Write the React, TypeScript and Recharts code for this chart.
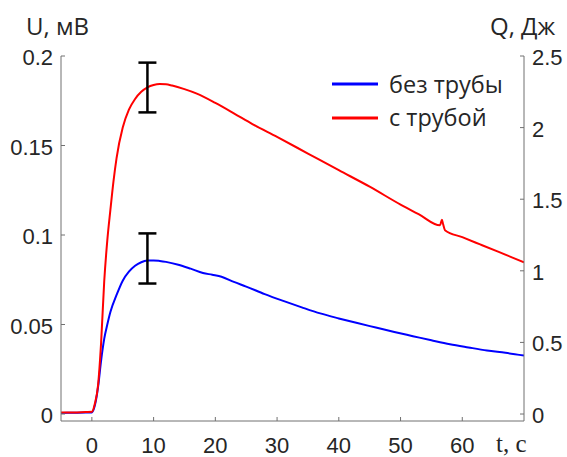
import { ComposedChart, Line, Scatter, ErrorBar, XAxis, YAxis } from "recharts";

// signal without the tube
const blueT = [-5, -3, -1, 0, 0.5, 1, 1.5, 2, 2.5, 3, 4, 5, 6, 7, 8, 9, 10, 11, 12, 14, 16, 18, 19.5, 21, 23, 25, 28, 31, 34, 37, 40, 43, 46, 49, 52, 55, 58, 61, 64, 67, 70];
const blueU = [0.0006, 0.0007, 0.0008, 0.0009, 0.005, 0.015, 0.03, 0.042, 0.05, 0.057, 0.0665, 0.0745, 0.0795, 0.0828, 0.0848, 0.0857, 0.0858, 0.0855, 0.085, 0.0834, 0.0812, 0.0788, 0.0778, 0.0767, 0.0738, 0.0712, 0.067, 0.0632, 0.0596, 0.0562, 0.0534, 0.0508, 0.0483, 0.0458, 0.0435, 0.0412, 0.039, 0.0372, 0.0355, 0.0342, 0.0327];

// signal with the tube
const redT = [-5, -3, -1, 0, 0.5, 1, 1.5, 2, 2.5, 3, 3.5, 4, 5, 6, 7, 8, 9, 10, 11, 12, 13, 15, 17, 20, 23, 26, 30, 35, 40, 45, 50, 53, 56.4, 56.7, 56.9, 57.2, 60, 63, 66, 70];
const redU = [0.0009, 0.0009, 0.0011, 0.0012, 0.006, 0.016, 0.04, 0.074, 0.097, 0.114, 0.13, 0.143, 0.16, 0.17, 0.176, 0.18, 0.1825, 0.1838, 0.1843, 0.1842, 0.1835, 0.1815, 0.179, 0.1738, 0.168, 0.162, 0.1548, 0.1455, 0.1362, 0.127, 0.117, 0.1115, 0.1054, 0.1085, 0.106, 0.1027, 0.0988, 0.0946, 0.0904, 0.0848];

// error bars at t = 9 s
const errT = [9, 9];
const errU = [0.1824, 0.0869];
const errHalf = [0.0139, 0.014];

const xTicks = [0, 10, 20, 30, 40, 50, 60];
const uTicks = [0, 0.05, 0.1, 0.15, 0.2];
const qTicks = [0, 0.5, 1, 1.5, 2, 2.5];

const seriesNames = ["без трубы", "с трубой"];
const BLUE = "#0000ff";
const RED = "#ff0000";
const AXIS = "#707070";
const TEXT = "#262626";
const TICK_FONT = "'Liberation Sans', Arial, sans-serif";
const LABEL_FONT = "'Open Sans', 'Noto Sans', sans-serif";

const blueData = blueT.map((t, i) => ({ t, u: blueU[i] }));
const redData = redT.map((t, i) => ({ t, u: redU[i] }));
const errData = errT.map((t, i) => ({ t, u: errU[i], e: errHalf[i] }));

const LeftTick = (props: any) => {
  const { x, y, payload } = props;
  return (
    <g>
      <line x1={x + 8} x2={x + 12} y1={y} y2={y} stroke={AXIS} />
      <text x={x} y={y + 9} textAnchor="end" fill={TEXT} fontSize={22} fontFamily={TICK_FONT}>
        {payload.value}
      </text>
    </g>
  );
};

const RightTick = (props: any) => {
  const { x, y, payload } = props;
  return (
    <g>
      <line x1={x - 8} x2={x - 12} y1={y} y2={y} stroke={AXIS} />
      <text x={x} y={y + 9} textAnchor="start" fill={TEXT} fontSize={22} fontFamily={TICK_FONT}>
        {payload.value}
      </text>
    </g>
  );
};

const BottomTick = (props: any) => {
  const { x, y, payload } = props;
  return (
    <g>
      <line x1={x} x2={x} y1={y} y2={y - 4} stroke={AXIS} />
      <text x={x} y={y + 32} textAnchor="middle" fill={TEXT} fontSize={22} fontFamily={TICK_FONT}>
        {payload.value}
      </text>
    </g>
  );
};

export default function App() {
  return (
    <div style={{ position: "absolute", left: 0, top: 0, width: 567, height: 457, background: "#fff" }}>
      <ComposedChart
        width={567}
        height={457}
        margin={{ top: 56, right: 0, bottom: 0, left: 0 }}
      >
        <XAxis
          type="number"
          dataKey="t"
          domain={[-5, 70]}
          ticks={xTicks}
          allowDataOverflow
          height={36}
          stroke={AXIS}
          tickSize={0}
          tickMargin={0}
          tickLine={false}
          tick={<BottomTick />}
        />
        <YAxis
          yAxisId="u"
          type="number"
          domain={[-0.0039, 0.2]}
          ticks={uTicks}
          allowDataOverflow
          width={61}
          stroke={AXIS}
          tickSize={0}
          tickMargin={8}
          tickLine={false}
          tick={<LeftTick />}
        />
        <YAxis
          yAxisId="q"
          orientation="right"
          type="number"
          domain={[-0.04875, 2.5]}
          ticks={qTicks}
          allowDataOverflow
          width={43}
          stroke={AXIS}
          tickSize={0}
          tickMargin={8}
          tickLine={false}
          tick={<RightTick />}
        />
        <Line
          yAxisId="u"
          data={blueData}
          dataKey="u"
          type="monotone"
          stroke={BLUE}
          strokeWidth={2}
          dot={false}
          isAnimationActive={false}
        />
        <Line
          yAxisId="u"
          data={redData}
          dataKey="u"
          type="monotone"
          stroke={RED}
          strokeWidth={2}
          dot={false}
          isAnimationActive={false}
        />
        <Scatter
          yAxisId="u"
          data={errData}
          dataKey="u"
          shape={() => <g />}
          isAnimationActive={false}
        >
          <ErrorBar dataKey="e" direction="y" width={9} stroke="#000" strokeWidth={2.5} isAnimationActive={false} />
        </Scatter>
      </ComposedChart>
      <svg width={567} height={457} style={{ position: "absolute", left: 0, top: 0, pointerEvents: "none" }}>
        <text x={26} y={35} fill={TEXT} fontSize={24} fontFamily={LABEL_FONT}>U, мВ</text>
        <text x={490} y={35} fill={TEXT} fontSize={24} fontFamily={LABEL_FONT}>Q, Дж</text>
        <text x={496} y={452} fill={TEXT} fontSize={25} fontFamily="'Liberation Serif', 'Times New Roman', serif">t, c</text>
        <line x1={332} x2={378} y1={84} y2={84} stroke={BLUE} strokeWidth={3} />
        <text x={389} y={93} fill={TEXT} fontSize={23.5} fontFamily={LABEL_FONT}>{seriesNames[0]}</text>
        <line x1={332} x2={378} y1={118} y2={118} stroke={RED} strokeWidth={3} />
        <text x={389} y={126} fill={TEXT} fontSize={23.5} fontFamily={LABEL_FONT}>{seriesNames[1]}</text>
      </svg>
    </div>
  );
}
